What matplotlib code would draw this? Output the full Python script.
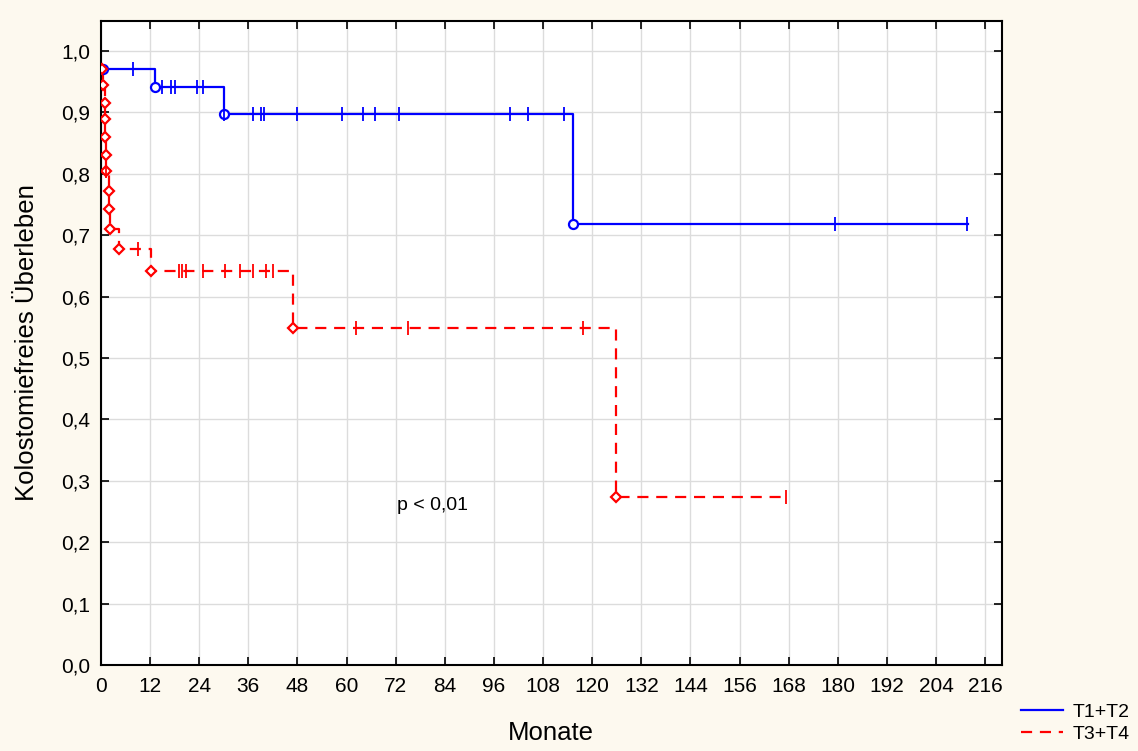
import numpy as np
import matplotlib.pyplot as plt
from matplotlib.lines import Line2D

# Kaplan-Meier steps (months, survival)
t12_events = [0.4, 13.2, 30.1, 115.2]
s12_events = [0.971, 0.941, 0.897, 0.718]
t12_end = 211.8
t12_cens = [7.8, 14.8, 17.2, 18.1, 23.4, 25.0, 30.1, 37.2, 39.2, 39.8, 48.0, 58.8,
            64.1, 66.9, 72.8, 99.8, 104.2, 113.0, 179.3, 211.5]

t34_events = [0.3, 0.5, 0.9, 1.0, 1.05, 1.1, 1.2, 1.9, 2.0, 2.1, 4.3, 12.1, 47.0, 125.8]
s34_events = [0.971, 0.945, 0.916, 0.889, 0.860, 0.831, 0.804, 0.772, 0.742, 0.711,
              0.678, 0.641, 0.549, 0.273]
t34_end = 167.4
t34_cens = [1.2, 9.1, 19.1, 19.9, 20.8, 25.0, 30.3, 33.9, 37.2, 40.3, 41.9, 62.3, 75.1,
            117.8, 167.4]

xticks = np.arange(0, 217, 12)
yticks = np.arange(0, 1.01, 0.1)

plt.rcParams['font.family'] = ['Liberation Sans', 'DejaVu Sans']

bg = '#fdf9ef'
fig = plt.figure(figsize=(11.38, 7.51), dpi=100, facecolor=bg)
ax = fig.add_axes([101 / 1138, 1 - 665 / 751, 901 / 1138, 644 / 751])
ax.set_facecolor('white')


def km_curve(ax, times, surv, t_end, cens, color, ls, marker, ms):
    xs = list(times) + [t_end]
    ys = list(surv) + [surv[-1]]
    # step line (vertical drops at each event)
    ax.step(xs, ys, where='post', color=color, linestyle=ls, lw=1.6, zorder=3)
    ax.plot(times, surv, linestyle='none', marker=marker, ms=ms, mfc='white',
            mec=color, mew=1.6, zorder=4)
    # censored observations
    cy = []
    for c in cens:
        idx = np.searchsorted(times, c, side='right') - 1
        cy.append(surv[max(idx, 0)])
    ax.plot(cens, cy, linestyle='none', marker='|', ms=10, mew=1.3, color=color, zorder=4)


km_curve(ax, t12_events, s12_events, t12_end, t12_cens, '#0000ff', '-', 'o', 6.5)
km_curve(ax, t34_events, s34_events, t34_end, t34_cens, '#ff0000', (0, (5, 3.5)), 'D', 5.5)

ax.set_xlim(0, 220.1)
ax.set_ylim(0, 1.049)
ax.set_xticks(xticks)
ax.set_yticks(yticks)
ax.set_yticklabels([f'{v:.1f}'.replace('.', ',') for v in yticks])
ax.grid(True, color='#dcdcdc', lw=1.0)
ax.set_axisbelow(True)
ax.tick_params(direction='in', length=6, width=1.2, labelsize=15,
               top=True, right=True)
ax.tick_params(axis='x', pad=9)
ax.tick_params(axis='y', pad=8)
for sp in ax.spines.values():
    sp.set_linewidth(1.5)

ax.text(72.3, 0.259, 'p < 0,01', fontsize=14, va='center', ha='left')

fig.text(551 / 1138, 1 - 733 / 751, 'Monate', fontsize=18.5, ha='center', va='center')
fig.text(27 / 1138, 1 - 343 / 751, 'Kolostomiefreies Überleben', fontsize=18.5,
         rotation=90, ha='center', va='center')

handles = [Line2D([], [], color='#0000ff', lw=1.6),
           Line2D([], [], color='#ff0000', lw=1.6, linestyle=(0, (5, 3.5)))]
fig.legend(handles, ['T1+T2', 'T3+T4'], loc='center left',
           bbox_to_anchor=(1003 / 1138, 1 - 723 / 751), frameon=False,
           fontsize=14, handlelength=2.2, handletextpad=0.5, labelspacing=0.25)

fig.savefig('out.png', dpi=100, facecolor=bg)
